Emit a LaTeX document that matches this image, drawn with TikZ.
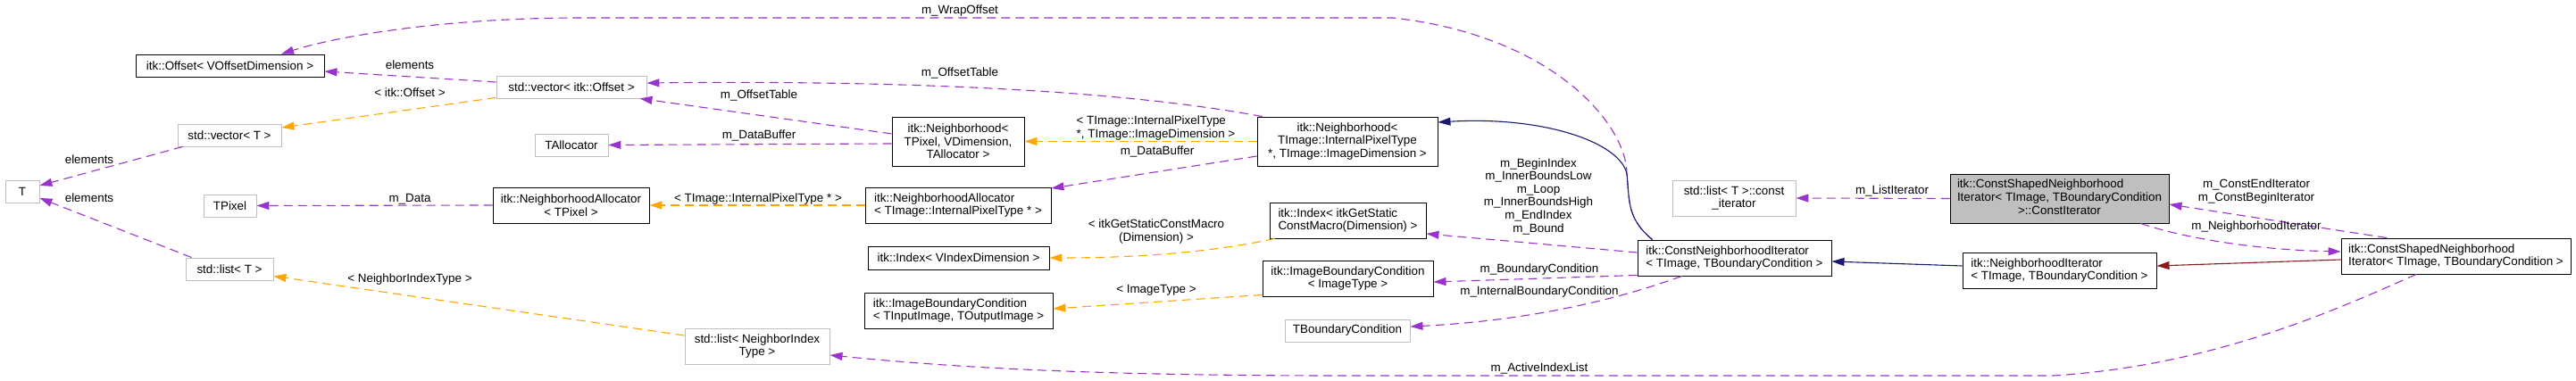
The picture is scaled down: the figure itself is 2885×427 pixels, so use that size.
\documentclass[tikz,border=0pt]{standalone}
\usepackage{fontspec}
\setmainfont{Liberation Sans}
\usetikzlibrary{arrows.meta,calc}
\definecolor{usecol}{HTML}{9A32CD}
\definecolor{tplcol}{HTML}{FFA500}
\definecolor{inhcol}{HTML}{191970}
\definecolor{protcol}{HTML}{8B1A1A}
\definecolor{grey75}{HTML}{BFBFBF}
\tikzset{
  every node/.style={font=\fontsize{13.4}{14.6}\selectfont, inner sep=0pt},
  docbox/.style={draw=black, line width=0.9pt, rectangle, align=center},
  undocbox/.style={draw=grey75, line width=0.9pt, rectangle, align=center},
  lbl/.style={align=center},
  usage/.style={draw=usecol, line width=1.1pt, dash pattern=on 10pt off 6pt, -{Triangle[length=14pt,width=9pt]}},
  tmpl/.style={draw=tplcol, line width=1.1pt, dash pattern=on 10pt off 6pt, -{Triangle[length=14pt,width=9pt]}},
  inh/.style={draw=inhcol, line width=1.1pt, -{Triangle[length=14pt,width=9pt]}},
  prot/.style={draw=protcol, line width=1.1pt, -{Triangle[length=14pt,width=9pt]}},
}
\begin{document}
\begin{tikzpicture}[x=1pt,y=-1pt]
\useasboundingbox (0,0) rectangle (2885,427);
% nodes
\node[docbox, minimum width=211pt, minimum height=25pt] (offV) at (257.5,73.5) {itk::Offset< VOffsetDimension >};
\node[undocbox, minimum width=116pt, minimum height=25pt] (vecT) at (257,151.5) {std::vector< T >};
\node[undocbox, minimum width=38pt, minimum height=25pt] (T) at (25,214.5) {T};
\node[undocbox, minimum width=59pt, minimum height=25pt] (TPixel) at (257.5,230.5) {TPixel};
\node[undocbox, minimum width=98pt, minimum height=25pt] (listT) at (257,301.5) {std::list< T >};
\node[undocbox, minimum width=168pt, minimum height=25pt] (vecOff) at (640,97.5) {std::vector< itk::Offset >};
\node[undocbox, minimum width=82pt, minimum height=25pt] (TAlloc) at (640,162.5) {TAllocator};
\node[docbox, minimum width=175pt, minimum height=40pt] (NAPix) at (639.5,230) {itk::NeighborhoodAllocator\\< TPixel >};
\node[undocbox, minimum width=162pt, minimum height=40pt] (listNIT) at (848,388) {std::list< NeighborIndex\\Type >};
\node[docbox, minimum width=148pt, minimum height=55pt] (NbrPix) at (1073,158.5) {itk::Neighborhood<\\TPixel, VDimension,\\TAllocator >};
\node[docbox, minimum width=208pt, minimum height=40pt, align=left] (NAImg) at (1073,230) {itk::NeighborhoodAllocator\\< TImage::InternalPixelType * >};
\node[docbox, minimum width=203pt, minimum height=26pt] (IdxV) at (1073.5,289) {itk::Index< VIndexDimension >};
\node[docbox, minimum width=211pt, minimum height=40pt, align=left] (IBCIn) at (1073.5,348) {itk::ImageBoundaryCondition\\< TInputImage, TOutputImage >};
\node[docbox, minimum width=202pt, minimum height=55pt] (NbrImg) at (1509,158.5) {itk::Neighborhood<\\TImage::InternalPixelType\\*, TImage::ImageDimension >};
\node[docbox, minimum width=175pt, minimum height=40pt, align=left] (IdxMacro) at (1509.5,247) {itk::Index< itkGetStatic\\ConstMacro(Dimension) >};
\node[docbox, minimum width=191pt, minimum height=40pt] (IBCImg) at (1509.5,312) {itk::ImageBoundaryCondition\\< ImageType >};
\node[undocbox, minimum width=140pt, minimum height=25pt] (TBC) at (1509,370.5) {TBoundaryCondition};
\node[docbox, minimum width=217pt, minimum height=40pt, align=left] (CNI) at (1942.5,289) {itk::ConstNeighborhoodIterator\\< TImage, TBoundaryCondition >};
\node[undocbox, minimum width=138pt, minimum height=40pt] (listCI) at (1942,222) {std::list< T >::const\\\_iterator};
\node[docbox, fill=grey75, minimum width=245pt, minimum height=55pt] (CIter) at (2306.5,222.5) {\begin{tabular}{@{}l@{}}itk::ConstShapedNeighborhood\\Iterator< TImage, TBoundaryCondition\\\multicolumn{1}{@{}c@{}}{>::ConstIterator}\end{tabular}};
\node[docbox, minimum width=217pt, minimum height=40pt, align=left] (NI) at (2306.5,303) {itk::NeighborhoodIterator\\< TImage, TBoundaryCondition >};
\node[docbox, minimum width=257pt, minimum height=40pt, align=left] (CSNI) at (2750.5,287) {itk::ConstShapedNeighborhood\\Iterator< TImage, TBoundaryCondition >};
% edges
\draw[usage] ($(vecOff.west)+(0,-5.5)$) -- ($(offV.east)+(0,6.5)$);
\draw[usage] ($(CNI.north west)+(17,0)$) .. controls (1822,245) and (1825,225) .. (1822,195)
   .. controls (1822,140) and (1740,40) .. (1560,20) -- (650,20)
   .. controls (500,20) and (380,40) .. ($(offV.north)+(57.5,0)$);
\draw[tmpl] ($(vecOff.south west)+(0,-1)$) -- ($(vecT.east)+(0,-8.5)$);
\draw[usage] ($(vecT.south west)+(6,0)$) -- ($(T.east)+(0,-6.5)$);
\draw[usage] ($(listT.north west)+(7,0)$) -- ($(T.east)+(0,7.5)$);
\draw[tmpl] ($(listNIT.west)+(0,-12)$) -- ($(listT.east)+(0,8)$);
\draw[usage] (NAPix.west) -- (TPixel.east);
\draw[usage] ($(NbrPix.west)+(0,-8.5)$) -- ($(vecOff.south east)+(-8,0)$);
\draw[usage] ($(NbrImg.north west)+(6,0)$) .. controls (1250,100) and (1000,90) .. ($(vecOff.east)+(0,-4.5)$);
\draw[usage] ($(NbrPix.west)+(0,2.5)$) -- (TAlloc.east);
\draw[tmpl] (NbrImg.west) -- (NbrPix.east);
\draw[usage] ($(NbrImg.west)+(0,16.5)$) -- ($(NAImg.north east)+(0,1.5)$);
\draw[tmpl] (NAImg.west) -- (NAPix.east);
\draw[inh] ($(CNI.north west)+(17,0)$) .. controls (1822,245) and (1825,225) .. (1822,195)
   .. controls (1815,160) and (1730,130) .. ($(NbrImg.east)+(0,-21.5)$);
\draw[tmpl] ($(IdxMacro.south west)+(6,0)$) .. controls (1360,282) and (1280,289) .. (IdxV.east);
\draw[tmpl] ($(IBCImg.south west)+(0,-2)$) -- ($(IBCIn.east)+(0,-2)$);
\draw[usage] ($(CNI.west)+(0,-6)$) -- ($(IdxMacro.east)+(0,15)$);
\draw[usage] ($(CNI.south west)+(0,-1)$) -- ($(IBCImg.east)+(0,4)$);
\draw[usage] ($(CNI.south west)+(50,0)$) .. controls (1800,340) and (1700,360) .. ($(TBC.east)+(0,-4.5)$);
\draw[usage] ($(CSNI.south)+(-44.5,0)$) .. controls (2600,355) and (2470,410) .. (2300,421) -- (1500,421)
   .. controls (1200,421) and (1050,410) .. ($(listNIT.east)+(0,10)$);
\draw[usage] (CIter.west) -- (listCI.east);
\draw[usage] ($(CSNI.north)+(-77.5,0)$) -- ($(CIter.east)+(0,6.5)$);
\draw[usage] ($(CIter.south east)+(-32,0)$) .. controls (2450,268) and (2530,280) .. ($(CSNI.west)+(0,-5)$);
\draw[inh] ($(NI.west)+(0,-5)$) -- ($(CNI.east)+(0,4)$);
\draw[prot] ($(CSNI.west)+(0,4)$) -- ($(NI.east)+(0,-5)$);
% labels
\node[lbl] (l1) at (459,73) {elements};
\node[lbl] (l2) at (1075,12) {m\_WrapOffset};
\node[lbl] (l3) at (459,104) {< itk::Offset >};
\node[lbl] (l4) at (100,179) {elements};
\node[lbl] (l5) at (100,222) {elements};
\node[lbl] (l6) at (459,313) {< NeighborIndexType >};
\node[lbl] (l7) at (459,223) {m\_Data};
\node[lbl] (l8) at (850,107) {m\_OffsetTable};
\node[lbl] (l9) at (1075,82) {m\_OffsetTable};
\node[lbl] (l10) at (850,152) {m\_DataBuffer};
\node[lbl, align=left] (l11) at (1294.5,143.5) {< TImage::InternalPixelType\\*, TImage::ImageDimension >};
\node[lbl] (l12) at (1296,170) {m\_DataBuffer};
\node[lbl] (l13) at (849,223) {< TImage::InternalPixelType * >};
\node[lbl] (l14) at (1295,259.5) {< itkGetStaticConstMacro\\(Dimension) >};
\node[lbl] (l15) at (1295,325) {< ImageType >};
\node[lbl] (l16) at (1723,220) {m\_BeginIndex\\m\_InnerBoundsLow\\m\_Loop\\m\_InnerBoundsHigh\\m\_EndIndex\\m\_Bound};
\node[lbl] (l17) at (1724,302) {m\_BoundaryCondition};
\node[lbl] (l18) at (1724,327) {m\_InternalBoundaryCondition};
\node[lbl] (l19) at (1724,413) {m\_ActiveIndexList};
\node[lbl] (l20) at (2119,214) {m\_ListIterator};
\node[lbl] (l21) at (2527,214.5) {m\_ConstEndIterator\\m\_ConstBeginIterator};
\node[lbl] (l22) at (2527,254) {m\_NeighborhoodIterator};
\end{tikzpicture}
\end{document}
